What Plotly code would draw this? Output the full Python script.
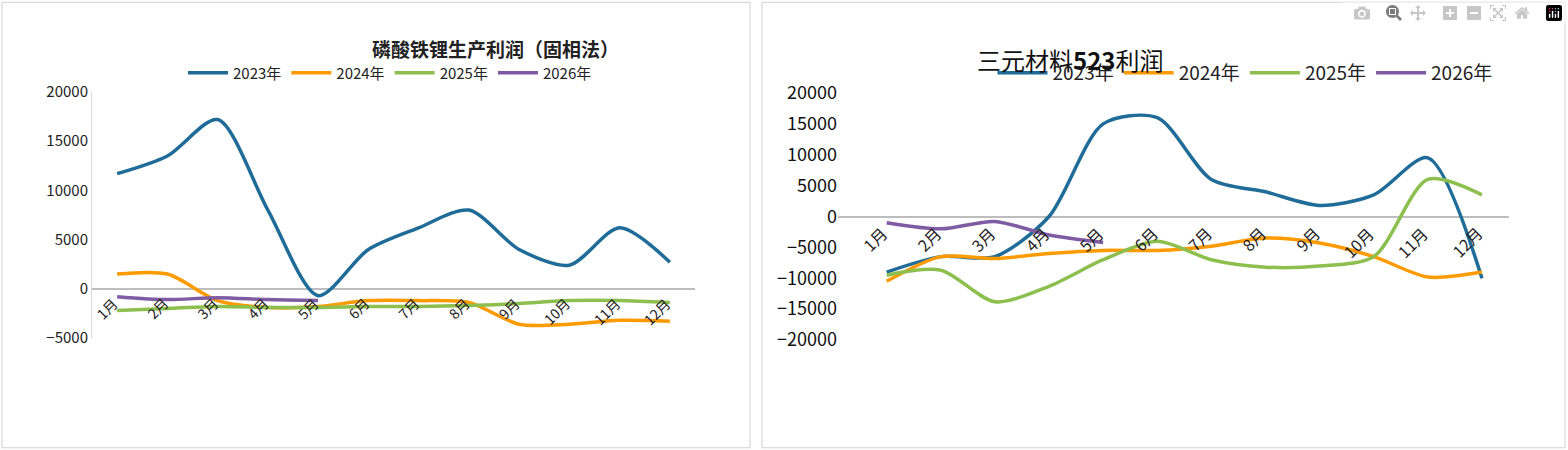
import plotly.graph_objects as go

months = ["1月","2月","3月","4月","5月","6月","7月","8月","9月","10月","11月","12月"]
years = ["2023年","2024年","2025年","2026年"]
colors = ["#1F6C98","#FF9A00","#8DBF4E","#7E5BA3"]

lfp = [
    [11700,13500,17200,8000,-700,4000,6200,8000,4000,2400,6200,2700],
    [1500,1500,-1200,-1900,-1800,-1200,-1200,-1400,-3600,-3600,-3200,-3300],
    [-2200,-2000,-1800,-1900,-1900,-1800,-1800,-1700,-1500,-1200,-1200,-1400],
    [-800,-1100,-900,-1100,-1200],
]
ncm = [
    [-9000,-6500,-6500,0,15000,16000,6000,4000,1800,3500,9500,-10000],
    [-10500,-6500,-6800,-6000,-5500,-5500,-4800,-3500,-4300,-6500,-9800,-9000],
    [-9500,-8700,-13800,-11300,-7000,-4000,-7000,-8200,-8000,-6500,6000,3500],
    [-1000,-2000,-800,-3000,-4200],
]

fig = go.Figure()
for i, y in enumerate(years):
    fig.add_trace(go.Scatter(x=months[:len(lfp[i])], y=lfp[i], name=y, mode="lines",
        line=dict(color=colors[i], width=3.5, shape="spline", smoothing=0.8),
        xaxis="x", yaxis="y", legend="legend"))
    fig.add_trace(go.Scatter(x=months[:len(ncm[i])], y=ncm[i], name=y, mode="lines",
        line=dict(color=colors[i], width=3.5, shape="spline", smoothing=0.8),
        xaxis="x2", yaxis="y2", legend="legend2"))

ann = []
for m in months:
    for xa, ya, fs in (("x", "y", 14), ("x2", "y2", 16)):
        ann.append(dict(x=m, y=0, xref=xa, yref=ya, text=m, showarrow=False, textangle=-45,
                        xanchor="right", yanchor="top", xshift=8, yshift=-2,
                        font=dict(size=fs, color="#222")))
ann.append(dict(x=370/1568, y=1-33/450, xref="paper", yref="paper", text="<b>磷酸铁锂生产利润（固相法）</b>",
                showarrow=False, font=dict(size=19, color="#222")))
ann.append(dict(x=1165/1568, y=1-40/450, xref="paper", yref="paper", text="三元材料<b>523</b>利润",
                showarrow=False, font=dict(size=24, color="#111")))

shapes = [
    dict(type="rect", xref="paper", yref="paper", x0=2/1568, x1=750/1568, y0=0.005, y1=0.995,
         line=dict(color="#D0D0D0", width=1)),
    dict(type="rect", xref="paper", yref="paper", x0=762/1568, x1=1565/1568, y0=0.005, y1=0.995,
         line=dict(color="#D0D0D0", width=1)),
]

fig.update_layout(
    width=1568, height=450, margin=dict(l=0, r=0, t=0, b=0, autoexpand=False),
    paper_bgcolor="white", plot_bgcolor="white",
    font=dict(family="Noto Sans CJK SC, Liberation Sans, sans-serif", color="#222"),
    xaxis=dict(domain=[92/1568, 695/1568], range=[-0.5, 11.5], showticklabels=False,
               showgrid=False, zeroline=False, anchor="y"),
    yaxis=dict(domain=[1-338/450, 1-92/450], range=[-5000, 20000], tickvals=[-5000,0,5000,10000,15000,20000],
               tickformat="d", showgrid=False, zeroline=True, zerolinecolor="#BDBDBD", zerolinewidth=1.5,
               showline=True, linecolor="#D9D9D9", tickfont=dict(size=15), ticks="", anchor="x"),
    xaxis2=dict(domain=[838/1568, 1509/1568], range=[-0.9, 11.5], showticklabels=False,
                showgrid=False, zeroline=False, anchor="y2"),
    yaxis2=dict(domain=[1-340/450, 1-93/450], range=[-20000, 20000], dtick=5000, tickformat="d",
                showgrid=False, zeroline=True, zerolinecolor="#BDBDBD", zerolinewidth=1.5,
                showline=False, tickfont=dict(size=18, color="#111"), ticks="", anchor="x2"),
    legend=dict(orientation="h", x=390/1568, y=1-73/450, xanchor="center", yanchor="middle",
                font=dict(size=15), itemwidth=40, bgcolor="rgba(0,0,0,0)"),
    legend2=dict(orientation="h", x=1245/1568, y=1-73/450, xanchor="center", yanchor="middle",
                 font=dict(size=19), itemwidth=50, bgcolor="rgba(0,0,0,0)"),
    annotations=ann, shapes=shapes, showlegend=True,
)
fig.write_html("out.html", post_script="document.body.style.margin='0';document.body.style.overflow='hidden';")
